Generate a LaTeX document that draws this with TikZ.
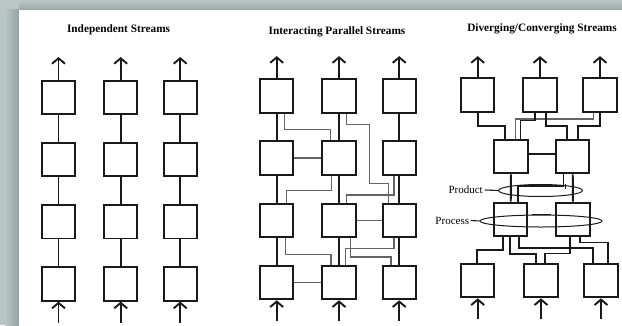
\documentclass[tikz,border=0pt]{standalone}
\usepackage{fontspec}
\setmainfont{Liberation Serif}
\usetikzlibrary{arrows.meta,shapes.geometric,calc}
\definecolor{bgc}{RGB}{186,198,198}
\definecolor{bgd}{RGB}{148,162,162}
\definecolor{thinc}{RGB}{100,100,100}
\definecolor{ink}{RGB}{25,25,25}
\begin{document}
\begin{tikzpicture}[x=1pt,y=-1pt,
  box/.style={draw=ink, line width=1.9pt, minimum width=33.3pt, minimum height=33.3pt, inner sep=0pt},
  main/.style={draw=ink, line width=1.9pt},
  thinl/.style={draw=thinc, line width=1.2pt},
  darkl/.style={draw=ink, line width=1.1pt},
  arr/.style={draw=ink, line width=1.9pt, -{Straight Barb[length=5.5pt,width=13pt]}},
  title/.style={font=\fontsize{11.3}{13}\selectfont\bfseries, inner sep=0pt},
  lab/.style={font=\fontsize{11}{13}\selectfont, inner sep=0pt},
  ring/.style={ellipse, draw=ink, line width=1pt, inner sep=0pt}]
\useasboundingbox (0,0) rectangle (622,325);
\fill[bgc] (0,0) rectangle (622,325);
\shade[left color=bgc, right color=bgd] (5,9.5) rectangle (19,325);
\shade[top color=bgc, bottom color=bgc!85!black] (19,0) rectangle (622,9.5);
\fill[white] (19,9.5) rectangle (622,325);

% titles
\node[title] (t1) at (118.6,30) {Independent Streams};
\node[title] (t2) at (337,32) {Interacting Parallel Streams};
\node[title] (t3) at (542,29) {Diverging/Converging Streams};

% ---------- left panel ----------
\foreach \c/\x in {1/58.5,2/120.7,3/180.2} {
  \foreach \r/\y in {1/97.3,2/159.3,3/221.8,4/284} {
    \node[box] (l\c\r) at (\x,\y) {};
  }
}
\foreach \c in {1,2,3} {
  \draw[main] (l\c1) -- (l\c2);
  \draw[main] (l\c2) -- (l\c3);
  \draw[main] (l\c3) -- (l\c4);
  \draw[arr] (l\c1.north) -- ++(0,-22.7);
  \draw[arr] ([yshift=-21pt]l\c4.south) -- (l\c4.south);
}

% ---------- middle panel ----------
\foreach \c/\x in {1/276.7,2/339,3/399.2} {
  \foreach \r/\y in {1/96,2/158,3/220.7,4/282.7} {
    \node[box] (m\c\r) at (\x,\y) {};
  }
}
\foreach \c in {1,2,3} {
  \draw[main] (m\c1) -- (m\c2);
  \draw[main] (m\c2) -- (m\c3);
  \draw[main] (m\c3) -- (m\c4);
  \draw[arr] (m\c1.north) -- ++(0,-22.3);
  \draw[arr] ([yshift=-21pt]m\c4.south) -- (m\c4.south);
}
\draw[thinl] ([xshift=7.6pt]m11.south) -- ++(0,15.6) -| ([xshift=-8.3pt]m22.north);
\draw[thinl] ([xshift=7.7pt]m21.south) -- ++(0,10.6) -| (369.3,183.3) -| ([xshift=-10.9pt]m33.north);
\draw[thinl] (m12.east) -- (m22.west);
\draw[thinl] ([xshift=-7.3pt]m22.south) -- ++(0,14.6) -| ([xshift=10pt]m13.north);
\draw[thinl] ([xshift=-5.2pt]m32.south) -- ++(0,19.3) -| ([xshift=7.7pt]m23.north);
\draw[thinl] (m23.east) -- (m33.west);
\draw[thinl] ([xshift=9pt]m13.south) -- ++(0,16) -| ([xshift=-8pt]m24.north);
\draw[thinl] (m14.east) -- (m24.west);
\draw[thinl] ([xshift=-5.2pt]m33.south) -- ++(0,10.4) -| ([xshift=6.7pt]m24.north);
\draw[thinl] ([xshift=11.7pt]m23.south) -- ++(0,18.7) -| ([xshift=-8.2pt]m34.north);

% ---------- right panel ----------
\node[box] (A) at (477.7,95) {};
\node[box] (B) at (540,95) {};
\node[box] (C) at (600,95) {};
\node[box] (D) at (511,156.7) {};
\node[box] (E) at (572.7,156.7) {};
\node[box] (F) at (510.7,219.2) {};
\node[box] (G) at (573,219.2) {};
\node[box] (H) at (477.7,280.7) {};
\node[box] (I) at (541,280.7) {};
\node[box] (J) at (601,280.7) {};

\foreach \n in {A,B,C} { \draw[arr] (\n.north) -- ++(0,-21.3); }
\foreach \n in {H,I,J} { \draw[arr] ([yshift=-21pt]\n.south) -- (\n.south); }

\draw[thinl] ([xshift=-6.7pt]C.south) -- ++(0,6.3) -| ([xshift=4.7pt]D.north);
\draw[main] (A.south) -- ++(0,13.6) -| ([xshift=-6pt]D.north);
\draw[darkl, line width=1.4pt] ([xshift=-5pt]B.south) -- ++(0,8) -| ([xshift=9.7pt]D.north);
\draw[main] ([xshift=6pt]B.south) -- ++(0,13.6) -| ([xshift=-6pt]E.north);
\draw[main] (C.south) -- ++(0,13.6) -| ([xshift=5.6pt]E.north);

\draw[darkl] ([xshift=-1.5pt,yshift=2.7pt]D.east) -- ([yshift=2.7pt]E.west);
\draw[main] (D) -- (F);
\draw[main] (E) -- (G);
\draw[darkl] ([xshift=-9.4pt]E.south) -- ++(0,11.7) -| ([xshift=7.3pt]F.north);
\draw[darkl] (565.5,184) -- (565.5,188.5);
\draw[darkl] ([xshift=4pt,yshift=4.9pt]F.east) -- ([xshift=-4.3pt,yshift=4.9pt]G.west);

\draw[main] ([xshift=-7.4pt]F.south) -- ++(0,13.6) -| ([xshift=-1pt]H.north);
\draw[main] ([xshift=-0.7pt]F.south) -- ++(0,17.6) -| ([xshift=-5.3pt]I.north);
\draw[main] ([xshift=8.3pt]F.south) -- ++(0,11) -| ([xshift=-7.7pt]J.north);
\draw[main] ([xshift=7pt]G.south) -- ++(0,5.7) -| ([xshift=7.3pt]J.north);
\draw[darkl] ([xshift=-3pt]G.south) -- ++(0,16.7) -| ([xshift=4pt]I.north);

% rings and labels
\node[ring, minimum width=84pt, minimum height=12pt] (prodring) at (540.5,190.5) {};
\node[ring, minimum width=122pt, minimum height=12pt] (procring) at (541,221) {};
\node[lab, anchor=east] (prodlab) at (483,190) {Product};
\node[lab, anchor=east] (proclab) at (469.3,220.5) {Process};
\draw[darkl] ([xshift=2pt]prodlab.east) -- (prodring.west);
\draw[darkl] ([xshift=1.5pt]proclab.east) -- (procring.west);
\end{tikzpicture}
\end{document}
